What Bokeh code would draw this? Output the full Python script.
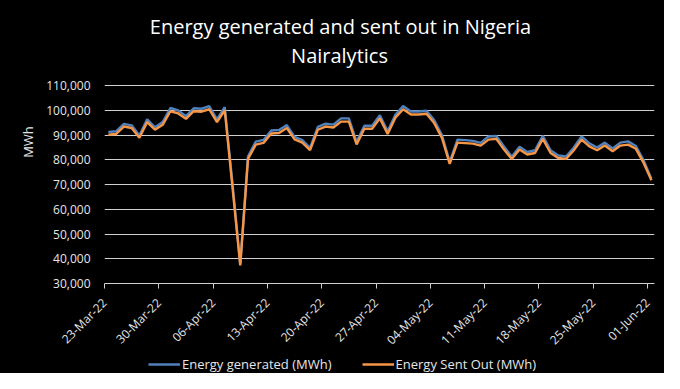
import math
import pandas as pd
from bokeh.plotting import figure
from bokeh.layouts import column
from bokeh.models import (Range1d, FixedTicker, DatetimeTickFormatter, NumeralTickFormatter,
                          Legend, LegendItem, Label, ColumnDataSource)
from bokeh.embed import file_html
from bokeh.resources import INLINE

# ---------------- data ----------------
dates = pd.date_range("2022-03-23", "2022-06-01", freq="D")
generated = [91300, 91600, 94600, 94000, 89900, 96400, 93200, 95300, 101000, 100000,
             97700, 100900, 100700, 101800, 96400, 101400, 70300, 37900, 81400, 87400,
             88100, 91900, 92100, 94100, 89300, 88000, 84900, 93400, 94700, 94300,
             96800, 96800, 87300, 93800, 93800, 98100, 91600, 98300, 101800, 99600,
             99600, 99900, 96100, 90000, 79200, 88200, 88000, 87700, 86900, 89500,
             89700, 85400, 81300, 85300, 83200, 83900, 89800, 83900, 81800, 81400,
             85000, 89500, 86700, 85000, 87000, 84600, 87000, 87500, 85600, 79800,
             72400]
sent_out = [90200, 90500, 93500, 92900, 89000, 95300, 92200, 94200, 99700, 98800,
            96600, 99700, 99500, 100500, 95300, 100100, 69000, 37300, 80400, 86200,
            86900, 90700, 90900, 92900, 88300, 87000, 84000, 92200, 93500, 93100,
            95500, 95500, 86300, 92600, 92600, 96800, 90500, 97100, 100500, 98400,
            98400, 98700, 94900, 88900, 78400, 87000, 86800, 86600, 85800, 88200,
            88500, 84200, 80400, 84200, 82200, 82800, 88500, 82800, 80800, 80400,
            83900, 88200, 85500, 83900, 85800, 83500, 85800, 86200, 84500, 78800,
            71800]
tick_dates = pd.date_range("2022-03-23", "2022-06-01", freq="7D")
y_ticks = [30000, 40000, 50000, 60000, 70000, 80000, 90000, 100000, 110000]
series_names = ["Energy generated (MWh)", "Energy Sent Out (MWh)"]
title_text = "Energy generated and sent out in Nigeria"
subtitle_text = "Nairalytics"

FONT = "Open Sans"
TXT = "#e6e6e6"
GRID = "#d0d0d0"
BLUE = "#4f81bd"
ORANGE = "#f79646"

# Excel "between tick marks": points sit in the middle of each day
xs = [d + pd.Timedelta(hours=12) for d in dates]
src = ColumnDataSource(dict(x=xs, gen=generated, sent=sent_out))

x0 = dates[0].to_pydatetime()
x1 = (dates[0] + pd.Timedelta(days=70.9)).to_pydatetime()

# frame reaches the top of the canvas; the value axis stops at 110,000 and the
# blank space above holds the titles
p = figure(width=664, height=356, x_axis_type="datetime", output_backend="svg",
           toolbar_location=None, x_range=Range1d(x0, x1), y_range=Range1d(30000, 144500),
           min_border_left=104, min_border_right=10, min_border_top=0, min_border_bottom=72,
           background_fill_color="black", border_fill_color="black")
p.outline_line_color = None

r1 = p.line("x", "gen", source=src, line_color=BLUE, line_width=2.4)
r2 = p.line("x", "sent", source=src, line_color=ORANGE, line_width=2.4)

# axes
xt = FixedTicker(ticks=[t.timestamp() * 1000 for t in tick_dates])
p.xaxis.ticker = xt
p.xaxis.formatter = DatetimeTickFormatter(days="%d-%b-%y", months="%d-%b-%y",
                                          years="%d-%b-%y", hours="%d-%b-%y")
p.xaxis.major_label_orientation = math.pi / 4
p.xaxis.axis_line_color = GRID
p.xaxis.major_tick_line_color = GRID
p.xaxis.major_tick_out = 5
p.xaxis.major_tick_in = 0
p.xaxis.minor_tick_line_color = None
p.xaxis.major_label_text_font = FONT
p.xaxis.major_label_text_font_size = "12px"
p.xaxis.major_label_text_color = TXT
p.xaxis.major_label_standoff = 12

yt = FixedTicker(ticks=y_ticks)
p.yaxis.ticker = yt
p.yaxis.formatter = NumeralTickFormatter(format="0,0")
p.yaxis.axis_line_color = None
p.yaxis.major_tick_line_color = None
p.yaxis.minor_tick_line_color = None
p.yaxis.major_tick_out = 0
p.yaxis.major_tick_in = 0
p.yaxis.major_label_standoff = 14
p.yaxis.major_label_text_font = FONT
p.yaxis.major_label_text_font_size = "12px"
p.yaxis.major_label_text_color = TXT
p.yaxis.axis_label = "MWh"
p.yaxis.axis_label_text_font = FONT
p.yaxis.axis_label_text_font_size = "13px"
p.yaxis.axis_label_text_font_style = "normal"
p.yaxis.axis_label_text_color = TXT
p.yaxis.axis_label_standoff = 6

p.xgrid.visible = False
p.ygrid.ticker = yt
p.ygrid.grid_line_color = GRID
p.ygrid.grid_line_width = 1

# titles (screen px measured from the frame's bottom-left corner)
for txt, sx, sy in [(title_text, 236, 257), (subtitle_text, 235, 228)]:
    p.add_layout(Label(x=sx, y=sy, x_units="screen", y_units="screen", text=txt,
                       text_align="center", text_baseline="middle", text_font=FONT,
                       text_font_size="20px", text_color="white"))

# legend strip under the chart (its frame is aligned with the chart's frame);
# the series are drawn off-range there so only the legend shows
lg = figure(width=664, height=17, output_backend="svg", toolbar_location=None,
            x_range=Range1d(0, 1), y_range=Range1d(0, 1), min_border=0,
            background_fill_color="black", border_fill_color="black")
lg.outline_line_color = None
lg.axis.visible = False
lg.grid.visible = False
lr1 = lg.line("x", "gen", source=src, line_color=BLUE, line_width=2.4)
lr2 = lg.line("x", "sent", source=src, line_color=ORANGE, line_width=2.4)
legend = Legend(items=[LegendItem(label=series_names[0], renderers=[lr1]),
                       LegendItem(label=series_names[1], renderers=[lr2])],
                orientation="horizontal", location=(44, 0),
                background_fill_alpha=0, border_line_alpha=0,
                label_text_font=FONT, label_text_font_size="13px", label_text_color=TXT,
                glyph_width=32, glyph_height=14, label_standoff=2, spacing=30,
                padding=0, margin=0)
lg.add_layout(legend, "center")

layout = column(p, lg, spacing=0, styles={"background-color": "black"})

open("out.html", "w").write(file_html(layout, INLINE))
